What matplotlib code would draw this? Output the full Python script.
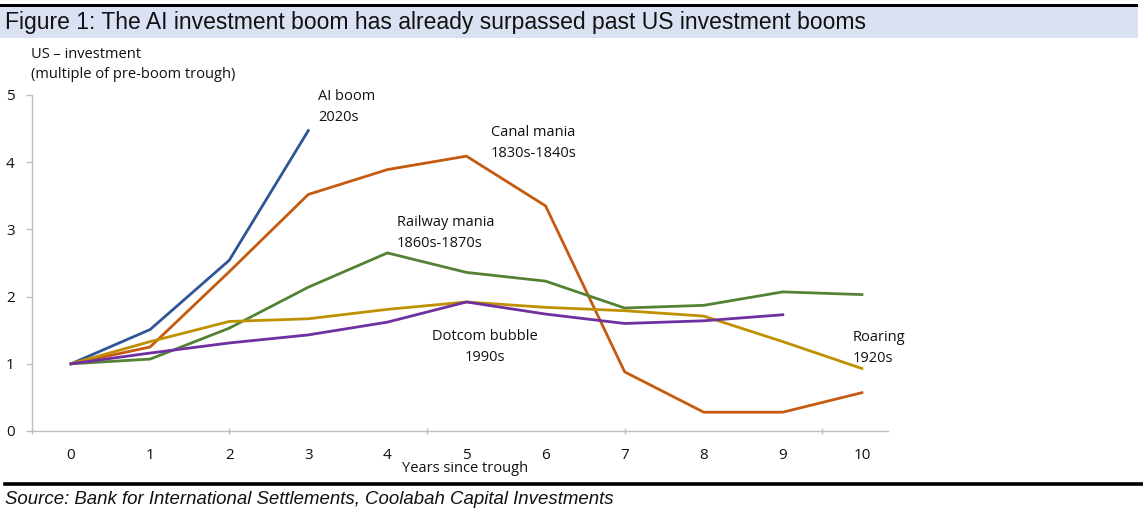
import matplotlib
matplotlib.use("Agg")
import matplotlib.pyplot as plt
from matplotlib.patches import Rectangle
from matplotlib.lines import Line2D

# ---- data ----
years = [0, 1, 2, 3, 4, 5, 6, 7, 8, 9, 10]
ai_boom = [1.0, 1.51, 2.54, 4.47]
canal_mania = [1.0, 1.25, 2.37, 3.52, 3.89, 4.09, 3.35, 0.88, 0.28, 0.28, 0.57]
railway_mania = [1.0, 1.07, 1.53, 2.14, 2.65, 2.36, 2.23, 1.83, 1.87, 2.07, 2.03]
roaring_1920s = [1.0, 1.33, 1.63, 1.67, 1.81, 1.92, 1.84, 1.79, 1.71, 1.33, 0.93]
dotcom_bubble = [1.0, 1.16, 1.31, 1.43, 1.62, 1.92, 1.74, 1.60, 1.64, 1.73]
y_ticks = [0, 1, 2, 3, 4, 5]
x_tick_labels = [str(v) for v in years]

title = "Figure 1: The AI investment boom has already surpassed past US investment booms"
source = "Source: Bank for International Settlements, Coolabah Capital Investments"

W, H = 1143, 513
fig = plt.figure(figsize=(W / 100, H / 100), dpi=100)
fig.patch.set_facecolor("white")

def fx(px):
    return px / W

def fy(py):
    return 1 - py / H

FONT = ["Liberation Sans Narrow", "Liberation Sans", "DejaVu Sans"]
CFONT = ["Open Sans", "DejaVu Sans"]

# top black bar and title band
fig.add_artist(Rectangle((fx(0), fy(7.5)), fx(1138), 3.5 / H, transform=fig.transFigure,
                         facecolor="black", edgecolor="none"))
fig.add_artist(Rectangle((fx(0), fy(38)), fx(1138), 30.5 / H, transform=fig.transFigure,
                         facecolor="#DAE1F2", edgecolor="none"))
fig.text(fx(5), fy(22), title, fontsize=16.5, family=FONT, va="center", ha="left", color="#111111")

# bottom black bar and source
fig.add_artist(Line2D([fx(5), fx(1143)], [fy(483.5), fy(483.5)], transform=fig.transFigure,
                      color="black", linewidth=2.6))
fig.text(fx(5), fy(500), source, fontsize=13.4, family=FONT, style="italic", va="center",
         ha="left", color="#111111")

# axes: x from -0.5 to 10.33, y 0..5
x_left_px, x_right_px = 31.5, 888
y_top_px, y_bot_px = 95, 431
ax = fig.add_axes([fx(x_left_px), fy(y_bot_px), (x_right_px - x_left_px) / W,
                   (y_bot_px - y_top_px) / H])
ax.set_xlim(-0.5, 10.33)
ax.set_ylim(0, 5)

lw = 2.0
ax.plot(years[:len(ai_boom)], ai_boom, color="#2F5597", lw=lw)
ax.plot(years, canal_mania, color="#C55A11", lw=lw)
ax.plot(years, railway_mania, color="#548235", lw=lw)
ax.plot(years, roaring_1920s, color="#BF9000", lw=lw)
ax.plot(years[:len(dotcom_bubble)], dotcom_bubble, color="#7030A0", lw=lw)

for s in ["top", "right"]:
    ax.spines[s].set_visible(False)
for s in ["left", "bottom"]:
    ax.spines[s].set_color("#BFBFBF")
    ax.spines[s].set_linewidth(1.0)

ax.set_yticks(y_ticks)
ax.set_yticklabels([str(v) for v in y_ticks])
ax.tick_params(axis="y", length=4, color="#BFBFBF", width=1.0, pad=8, labelsize=11)

# labels on every year (major, no tick mark); Excel-style tick marks every 2.5 (minor)
ax.xaxis.remove_overlapping_locs = False
ax.set_xticks(years)
ax.set_xticklabels(x_tick_labels)
ax.tick_params(axis="x", which="major", length=0, pad=12, labelsize=11)
ax.set_xticks([-0.5, 2, 4.5, 7, 9.5], minor=True)
ax.tick_params(axis="x", which="minor", length=5, color="#BFBFBF", width=1.0, direction="inout")
for lab in ax.get_xticklabels() + ax.get_yticklabels():
    lab.set_family(CFONT)
    lab.set_color("#111111")

# axis titles
fig.text(fx(31), fy(54), "US – investment", fontsize=10.5, family=CFONT, va="center", ha="left", color="#111111")
fig.text(fx(31), fy(74), "(multiple of pre-boom trough)", fontsize=10.5, family=CFONT, va="center", ha="left", color="#111111")
fig.text(fx(465), fy(468), "Years since trough", fontsize=10.5, family=CFONT, va="center", ha="center", color="#111111")

# annotations
def ann(px, py, txt, ha="left"):
    fig.text(fx(px), fy(py), txt, fontsize=10.5, family=CFONT, va="center", ha=ha,
             color="#111111", linespacing=1.5)

ann(318, 107, "AI boom\n2020s")
ann(491, 143, "Canal mania\n1830s-1840s")
ann(397, 233, "Railway mania\n1860s-1870s")
ann(485, 347, "Dotcom bubble\n1990s", ha="center")
ann(853, 348, "Roaring\n1920s")

fig.savefig("out.png", dpi=100)
